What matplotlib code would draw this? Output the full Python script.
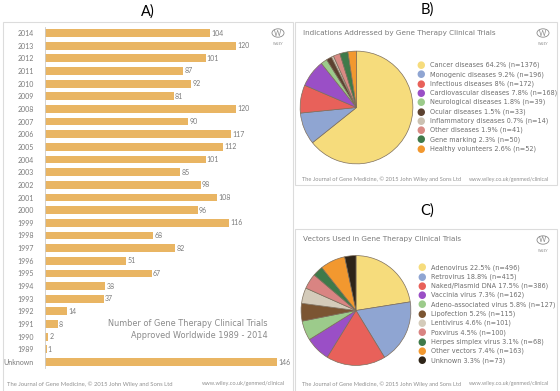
import matplotlib
matplotlib.use('Agg')
import matplotlib.pyplot as plt
from matplotlib.patches import Rectangle, Circle

plt.rcParams['font.family'] = ['Lato', 'DejaVu Sans']

W, H = 560, 391

# panel A data
years = ['2014', '2013', '2012', '2011', '2010', '2009', '2008', '2007', '2006',
         '2005', '2004', '2003', '2002', '2001', '2000', '1999', '1998', '1997',
         '1996', '1995', '1994', '1993', '1992', '1991', '1990', '1989', 'Unknown']
trials = [104, 120, 101, 87, 92, 81, 120, 90, 117, 112, 101, 85, 98, 108, 96,
          116, 68, 82, 51, 67, 38, 37, 14, 8, 2, 1, 146]

# panel B data
ind_labels = ['Cancer diseases 64.2% (n=1376)', 'Monogenic diseases 9.2% (n=196)',
              'Infectious diseases 8% (n=172)', 'Cardiovascular diseases 7.8% (n=168)',
              'Neurological diseases 1.8% (n=39)', 'Ocular diseases 1.5% (n=33)',
              'Inflammatory diseases 0.7% (n=14)', 'Other diseases 1.9% (n=41)',
              'Gene marking 2.3% (n=50)', 'Healthy volunteers 2.6% (n=52)']
ind_n = [1376, 196, 172, 168, 39, 33, 14, 41, 50, 52]
ind_colors = ['#f6dc7c', '#8fa5d2', '#e8615a', '#9a4fc6', '#9ccb8b',
              '#5c4130', '#cbc1b2', '#d98a84', '#3f7a4a', '#f2982f']

# panel C data
vec_labels = ['Adenovirus 22.5% (n=496)', 'Retrovirus 18.8% (n=415)',
              'Naked/Plasmid DNA 17.5% (n=386)', 'Vaccinia virus 7.3% (n=162)',
              'Adeno-associated virus 5.8% (n=127)', 'Lipofection 5.2% (n=115)',
              'Lentivirus 4.6% (n=101)', 'Poxvirus 4.5% (n=100)',
              'Herpes simplex virus 3.1% (n=68)', 'Other vectors 7.4% (n=163)',
              'Unknown 3.3% (n=73)']
vec_n = [496, 415, 386, 162, 127, 115, 101, 100, 68, 163, 73]
vec_colors = ['#f6dc7c', '#8fa5d2', '#e8615a', '#9a4fc6', '#9ccb8b', '#7b5532',
              '#d4cbba', '#d98482', '#3f7a4a', '#f2982f', '#2e2418']

footer_l = 'The Journal of Gene Medicine, \u00a9 2015 John Wiley and Sons Ltd'
footer_r = 'www.wiley.co.uk/genmed/clinical'

txt = '#7a7a7a'
wide = ['DejaVu Sans']


def fx(x):
    return x / W


def fy(y):
    return 1 - y / H


def box(ax_rect):
    x0, y0, x1, y1 = ax_rect
    fig.patches.append(Rectangle((fx(x0), fy(y1)), fx(x1 - x0), (y1 - y0) / H,
                                 transform=fig.transFigure, fill=False,
                                 edgecolor='#dcdcdc', linewidth=0.8))


def logo(x, y):
    fig.patches.append(Circle((fx(x), fy(y)), 6 / W, transform=fig.transFigure,
                              fill=False, edgecolor='#8a8a8a', linewidth=0.6))
    fig.text(fx(x), fy(y), 'W', fontsize=5, color='#8a8a8a', ha='center', va='center')
    fig.text(fx(x), fy(y + 11), 'WILEY', fontsize=2.5, color='#8a8a8a',
             ha='center', va='center')


fig = plt.figure(figsize=(5.6, 3.91), dpi=100)
fig.patch.set_facecolor('white')

# panel frames
box((3, 22, 293, 395))
box((295, 22, 557, 185))
box((295, 229, 557, 395))

fig.text(fx(148), fy(12), 'A)', fontsize=10.5, ha='center', va='center')
fig.text(fx(427), fy(10), 'B)', fontsize=10.5, ha='center', va='center')
fig.text(fx(427), fy(211), 'C)', fontsize=10.5, ha='center', va='center')

# ---- panel A: horizontal bars
step = (362 - 33) / 26
top = 33 - step / 2
bot = 362 + step / 2
scale = 1.59  # px per trial
axA = fig.add_axes([fx(45), fy(bot), fx(146 * scale), (bot - top) / H])
pos = list(range(len(years)))
axA.barh(pos, trials, height=0.62, color='#e9b563', edgecolor='none')
axA.set_xlim(0, 146)
axA.set_ylim(len(years) - 0.5, -0.5)
axA.set_yticks(pos)
axA.set_yticklabels(years, fontsize=5, color=txt)
axA.tick_params(axis='y', length=0, pad=8)
axA.set_xticks([])
for s in ['top', 'right', 'bottom']:
    axA.spines[s].set_visible(False)
axA.spines['left'].set_color('#cccccc')
axA.spines['left'].set_linewidth(0.6)
for i, v in enumerate(trials):
    axA.text(v + 0.8, i, str(v), fontsize=5, color=txt, va='center', ha='left',
             clip_on=False)

fig.text(fx(268), fy(324), 'Number of Gene Therapy Clinical Trials', fontsize=5.9,
         color='#8a8a8a', ha='right', va='center', family=wide)
fig.text(fx(268), fy(336), 'Approved Worldwide 1989 - 2014', fontsize=5.9,
         color='#8a8a8a', ha='right', va='center', family=wide)
fig.text(fx(7), fy(384), footer_l, fontsize=4.2, color='#909090', va='center')
fig.text(fx(285), fy(384), footer_r, fontsize=4.1, color='#909090', va='center', ha='right')
logo(278, 33)


def pie_panel(cx, cy, r, vals, cols, labels, title, ty, lx, ly0, logo_y, foot_y):
    ax = fig.add_axes([fx(cx - r), fy(cy + r), fx(2 * r), 2 * r / H])
    ax.pie(vals, colors=cols, startangle=90, counterclock=False,
           wedgeprops=dict(edgecolor='#7d6e5c', linewidth=0.5))
    ax.set_xlim(-1.02, 1.02)
    ax.set_ylim(-1.02, 1.02)
    fig.text(fx(303), fy(ty), title, fontsize=5.2, color=txt, va='center', family=wide)
    for k, (lab, c) in enumerate(zip(labels, cols)):
        yy = ly0 + k * 9.3
        fig.text(fx(lx), fy(yy), '\u25cf', fontsize=7, color=c, va='center', ha='center',
                 family=wide)
        fig.text(fx(lx + 9), fy(yy), lab, fontsize=4.7, color='#6e6e6e', va='center',
                 family=wide)
    fig.text(fx(302), fy(foot_y), footer_l, fontsize=4.1, color='#909090', va='center')
    fig.text(fx(549), fy(foot_y), footer_r, fontsize=3.9, color='#909090', va='center',
             ha='right')
    logo(543, logo_y)


pie_panel(356.5, 107.5, 57.5, ind_n, ind_colors, ind_labels,
          'Indications Addressed by Gene Therapy Clinical Trials', 33, 421, 65, 33, 179)
pie_panel(356, 310.5, 56, vec_n, vec_colors, vec_labels,
          'Vectors Used in Gene Therapy Clinical Trials', 239, 422, 267.3, 240, 384)

fig.savefig('out.png', dpi=100)
